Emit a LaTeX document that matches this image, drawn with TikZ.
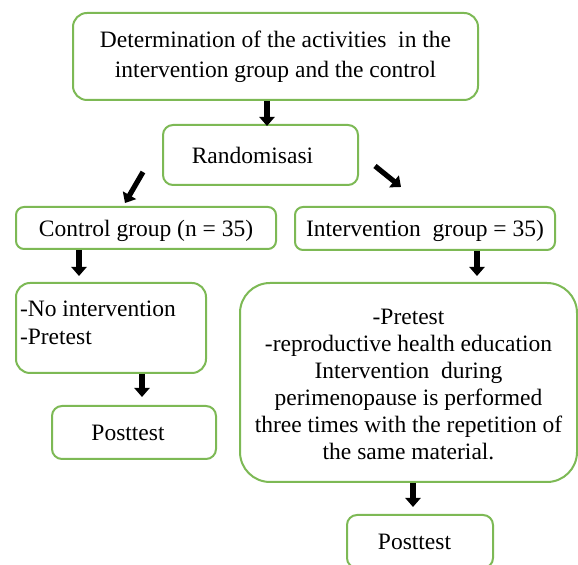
\documentclass[tikz,border=0pt]{standalone}
\usepackage{fontspec}
\setmainfont{Liberation Serif}
\usepackage{tikz}
\usetikzlibrary{arrows.meta, positioning, calc}
\definecolor{boxgreen}{RGB}{125,185,85}

\begin{document}
\begin{tikzpicture}[
                                        x=0.5pt, y=-0.5pt,
                                        font=\fontsize{11.75}{15}\selectfont,
                                        box/.style={draw=boxgreen, line width=1pt, fill=white, align=center},
                                        arr/.style={line width=2.6pt, -{Triangle[width=7.5pt,length=4.5pt]}},
                                ]
                                \useasboundingbox (0,0) rectangle (578,565);
                                \clip (0,0) rectangle (578,565);

                                \node[box, rounded corners=7pt, minimum width=202.5pt, minimum height=43.5pt] (det) at (275.5,56.5)
                                        {Determination of the activities\ \ in the\\intervention group and the control};
                                \node[box, rounded corners=5pt, minimum width=97.5pt, minimum height=30pt] (rand) at (260.5,155)
                                        {Randomisasi\hspace{8pt}};
                                \node[box, rounded corners=4pt, text depth=0pt, minimum width=130pt, minimum height=21pt] (ctrl) at (146,228)
                                        {Control group (n = 35)};
                                \node[box, rounded corners=4pt, text depth=0pt, minimum width=130pt, minimum height=21.5pt] (intv) at (425,228.5)
                                        {Intervention\ \ group = 35)};
                                \node[box, rounded corners=7pt, inner sep=0pt, minimum width=95pt, minimum height=45pt] (noint) at (111,328)
                                        {\parbox[c][45pt][t]{91pt}{\fontsize{11.75}{14}\selectfont\rule{0pt}{17pt}-No intervention\\-Pretest}};
                                \node[box, rounded corners=5pt, minimum width=82pt, minimum height=26.5pt] (post1) at (134,432.5)
                                        {Posttest\hspace{6pt}};
                                \node[box, rounded corners=15pt, inner sep=0pt, minimum width=168.5pt, minimum height=99.5pt] (big) at (408.5,382.5)
                                        {\parbox[c][99.5pt][t]{164pt}{\centering\fontsize{11.75}{13.5}\selectfont\rule{0pt}{21pt}-Pretest\\-reproductive health education\\Intervention\ \ during\\perimenopause is performed\\three times with the repetition of\\the same material.}};
                                \node[box, rounded corners=5pt, minimum width=73pt, minimum height=26.5pt] (post2) at (420,541.5)
                                        {Posttest\hspace{5.5pt}};

                                \coordinate (lfrom) at (143,172);
                                \coordinate (lto) at (125,203);
                                \coordinate (rfrom) at (375,166);
                                \coordinate (rto) at (401,187);

                                \draw[arr] ([xshift=-4.25pt]det.south) -- ([xshift=3.25pt,yshift=-1pt]rand.north);
                                \draw[arr] (lfrom) -- (lto);
                                \draw[arr] (rfrom) -- (rto);
                                \draw[arr] ([xshift=-33.5pt]ctrl.south) -- ([xshift=-16pt,yshift=3pt]noint.north);
                                \draw[arr] ([xshift=26pt]intv.south) -- ([xshift=34.25pt,yshift=3pt]big.north);
                                \draw[arr] ([xshift=15.5pt]noint.south) -- ([xshift=4pt,yshift=4pt]post1.north);
                                \draw[arr] ([xshift=2.25pt]big.south) -- ([xshift=-3.5pt,yshift=3.5pt]post2.north);
                        \end{tikzpicture}
\end{document}
